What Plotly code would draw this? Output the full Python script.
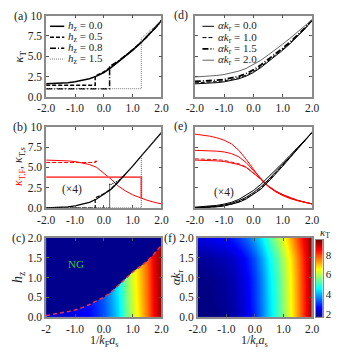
import plotly.graph_objects as go

W, H = 341, 357

x_pts = [-2.0, -1.75, -1.5, -1.25, -1.0, -0.75, -0.5, -0.25, 0.0, 0.25, 0.5, 0.75, 1.0, 1.25, 1.5, 1.75, 2.0]

# (a) kappa_T for several h_z
kappa_h00 = [1.6, 1.63, 1.68, 1.75, 1.85, 2.0, 2.22, 2.55, 3.0, 3.6, 4.3, 5.0, 5.75, 6.55, 7.4, 8.35, 9.4]
x_h05 = [-2.0, -0.3, -0.3, -0.25, 0.0, 0.25, 0.5, 0.75, 1.0, 1.25, 1.5, 1.75, 2.0]
kappa_h05 = [1.42, 1.42, 2.6, 2.65, 3.07, 3.66, 4.35, 5.04, 5.78, 6.57, 7.42, 8.36, 9.4]
x_h08 = [-2.0, 0.2, 0.2, 0.25, 0.5, 0.75, 1.0, 1.25, 1.5, 1.75, 2.0]
kappa_h08 = [1.0, 1.0, 3.8, 3.85, 4.4, 5.05, 5.78, 6.57, 7.42, 8.36, 9.4]
x_h15 = [-2.0, 1.3, 1.3, 1.5, 1.75, 2.0]
kappa_h15 = [1.0, 1.0, 7.25, 7.8, 8.6, 9.45]

# (b) superfluid (black) and fermionic x4 (red) parts
black_h00 = [0.0, 0.03, 0.07, 0.14, 0.25, 0.43, 0.7, 1.1, 1.65, 2.3, 3.2, 4.15, 5.15, 6.2, 7.25, 8.3, 9.3]
red_h00 = [5.9, 5.88, 5.85, 5.8, 5.72, 5.58, 5.35, 5.0, 4.3, 3.55, 2.7, 2.1, 1.62, 1.25, 0.95, 0.7, 0.5]
x_b05 = [-2.0, -0.3, -0.3, 0.0, 0.25, 0.5]
black_h05 = [0.0, 0.0, 1.25, 1.75, 2.35, 3.22]
x_r05 = [-2.0, -0.3, -0.3, -0.2]
red_h05 = [5.6, 5.6, 5.75, 5.75]
x_b08 = [-2.0, 0.2, 0.2, 0.25, 0.5, 0.75]
black_h08 = [0.0, 0.0, 2.9, 2.9, 3.35, 4.17]
x_b15 = [-2.0, 1.3, 1.3, 1.5, 1.75, 2.0]
black_h15 = [0.0, 0.0, 6.45, 7.3, 8.32, 9.3]
x_r15 = [-2.0, 1.3, 1.3]
red_h15 = [3.8, 3.8, 1.18]

# (d) kappa_T for several alpha k_r
kd_a00 = kappa_h00
kd_a10 = [1.72, 1.75, 1.8, 1.87, 1.97, 2.12, 2.34, 2.67, 3.12, 3.72, 4.42, 5.1, 5.85, 6.63, 7.47, 8.4, 9.42]
kd_a15 = [1.9, 1.93, 1.98, 2.05, 2.15, 2.3, 2.53, 2.87, 3.32, 3.92, 4.6, 5.27, 6.0, 6.76, 7.57, 8.46, 9.45]
kd_a20 = [2.45, 2.49, 2.55, 2.63, 2.75, 2.92, 3.17, 3.5, 3.95, 4.5, 5.15, 5.8, 6.5, 7.22, 7.98, 8.75, 9.5]

# (e)
blk_a00 = black_h00
blk_a10 = [0.02, 0.05, 0.09, 0.17, 0.29, 0.48, 0.77, 1.18, 1.75, 2.42, 3.3, 4.25, 5.22, 6.25, 7.28, 8.3, 9.3]
blk_a15 = [0.04, 0.08, 0.13, 0.22, 0.36, 0.57, 0.88, 1.32, 1.9, 2.6, 3.45, 4.37, 5.32, 6.32, 7.32, 8.32, 9.3]
blk_a20 = [0.1, 0.15, 0.22, 0.32, 0.48, 0.7, 1.05, 1.55, 2.15, 2.9, 3.75, 4.62, 5.55, 6.48, 7.4, 8.35, 9.3]
red_a00 = red_h00
red_a10 = [6.05, 6.03, 6.0, 5.95, 5.86, 5.7, 5.45, 5.05, 4.35, 3.55, 2.7, 2.1, 1.62, 1.25, 0.95, 0.7, 0.5]
red_a15 = [7.1, 7.08, 7.05, 7.0, 6.9, 6.7, 6.3, 5.6, 4.6, 3.6, 2.72, 2.08, 1.6, 1.22, 0.93, 0.7, 0.5]
red_a20 = [9.1, 9.0, 8.85, 8.65, 8.35, 7.9, 7.1, 6.0, 4.7, 3.55, 2.65, 2.0, 1.52, 1.16, 0.9, 0.68, 0.5]

# (c) map of kappa_T over (1/kFa_s, h_z) and the phase boundary h_c
h_rows = [0.0, 2.0]
kc_h00 = [2.25, 2.28, 2.32, 2.4, 2.5, 2.6, 2.7, 2.95, 3.3, 3.8, 4.35, 5.3, 6.1, 6.9, 7.65, 8.6, 9.35]
kc_h20 = [2.4, 2.45, 2.5, 2.6, 2.7, 2.85, 3.0, 3.3, 3.7, 4.25, 4.9, 5.7, 6.5, 7.2, 7.85, 8.8, 9.4]
hc_vals = [0.04, 0.07, 0.10, 0.14, 0.18, 0.24, 0.32, 0.40, 0.50, 0.63, 0.80, 0.98, 1.14, 1.27, 1.41, 1.60, 1.82]
# (f) map over (1/kra_s, alpha k_r) uses the curves of (d)
alpha_rows = [0.0, 1.0, 1.5, 2.0]
# colour scale
kmin, kmax = 1.7, 9.5
cbar_ticks = [2, 4, 6, 8]

FONT = "Liberation Serif"
GRAY = "#8a8a8a"
jet = [[0.0, "rgb(0,0,128)"], [0.125, "rgb(0,0,255)"], [0.375, "rgb(0,255,255)"],
       [0.625, "rgb(255,255,0)"], [0.875, "rgb(255,0,0)"], [1.0, "rgb(128,0,0)"]]


def px(v):
    return v / W


def py(v):
    return 1 - v / H


fig = go.Figure()


def line(x, y, ax, color="black", width=1.3, dash="solid"):
    fig.add_trace(go.Scatter(x=x, y=y, mode="lines", xaxis="x" + ax, yaxis="y" + ax,
                             line=dict(color=color, width=width, dash=dash), showlegend=False,
                             hoverinfo="skip"))


# (a)
line(x_pts, kappa_h00, "", width=1.5)
line(x_h05, kappa_h05, "", width=1.5, dash="4px,2px")
line(x_h08, kappa_h08, "", width=1.5, dash="6px,2px,1px,2px")
line(x_h15, kappa_h15, "", color="#777", width=1, dash="1px,1px")

# (b)
line(x_pts, red_h00, "2", color="red", width=1)
line(x_r05, red_h05, "2", color="red", width=1.2, dash="4px,2px")
line(x_r15, red_h15, "2", color="#ff5050", width=1.8)
line(x_pts, black_h00, "2", width=1.3)
line(x_b05, black_h05, "2", width=1.2, dash="4px,2px")
line(x_b08, black_h08, "2", width=1.2, dash="1px,1px")
line(x_b15, black_h15, "2", color="#555", width=1, dash="1px,1px")

# (d)
line(x_pts, kd_a00, "4", width=1)
line(x_pts, kd_a10, "4", width=1, dash="4px,2px")
line(x_pts, kd_a15, "4", width=1.8, dash="6px,2px,1px,2px")
line(x_pts, kd_a20, "4", color="#666", width=1)

# (e)
for r, d in [(red_a00, "solid"), (red_a10, "4px,2px"), (red_a15, "solid"), (red_a20, "solid")]:
    line(x_pts, r, "5", color="red", width=1, dash=d)
for b, d in [(blk_a00, "solid"), (blk_a10, "4px,2px"), (blk_a15, "solid"), (blk_a20, "solid")]:
    line(x_pts, b, "5", width=1, dash=d)

# (c) heatmap + normal-gas region
fig.add_trace(go.Heatmap(x=x_pts, y=h_rows, z=[kc_h00, kc_h20], xaxis="x3", yaxis="y3",
                         colorscale=jet, zmin=kmin, zmax=kmax, zsmooth="best", showscale=False,
                         hoverinfo="skip"))
fig.add_trace(go.Scatter(x=x_pts + [2.0, -2.0], y=hc_vals + [2.0, 2.0], xaxis="x3", yaxis="y3",
                         mode="lines", fill="toself", fillcolor="rgb(0,0,140)",
                         line=dict(width=0), showlegend=False, hoverinfo="skip"))
line(x_pts, hc_vals, "3", color="#e8304a", width=1.5, dash="4px,3px")

# (f) heatmap
fig.add_trace(go.Heatmap(x=x_pts, y=alpha_rows, z=[kd_a00, kd_a10, kd_a15, kd_a20],
                         xaxis="x6", yaxis="y6", colorscale=jet, zmin=kmin, zmax=kmax,
                         zsmooth="best", hoverinfo="skip", showscale=False))

# colour bar drawn as a thin heatmap on its own axis
fig.add_trace(go.Heatmap(x=[0, 1], y=[kmin, kmax], z=[[kmin, kmin], [kmax, kmax]],
                         xaxis="x7", yaxis="y7", colorscale=jet, zmin=kmin, zmax=kmax,
                         zsmooth="best", hoverinfo="skip", showscale=False))

ax_common = dict(showline=True, mirror="ticks", linecolor=GRAY, linewidth=1.5, ticks="inside",
                 ticklen=3, tickcolor="#555", showgrid=False, zeroline=False,
                 tickfont=dict(family=FONT, size=11.5, color="#222"))

xl = [px(39), px(160)]
xr = [px(195), px(318)]
xf = [px(198), px(318)]
ya = [py(94), py(10)]
yb = [py(209), py(125)]
yc = [py(322), py(240)]

xt = dict(range=[-2, 2], tickvals=[-2, -1, 0, 1, 2], ticktext=["-2.0", "-1.0", "0.0", "1.0", "2.0"])
yt = dict(range=[0, 10], tickvals=[0, 2.5, 5, 7.5, 10], ticktext=["0.0", "2.5", "5.0", "7.5", "10"])
yh = dict(range=[0, 2], tickvals=[0, 0.5, 1, 1.5, 2], ticktext=["0.0", "0.5", "1.0", "1.5", "2.0"])

fig.update_layout(
    width=W, height=H, margin=dict(l=0, r=0, t=0, b=0),
    paper_bgcolor="white", plot_bgcolor="white", showlegend=False,
    xaxis=dict(ax_common, domain=xl, anchor="y", **xt),
    yaxis=dict(ax_common, domain=ya, anchor="x", **yt),
    xaxis2=dict(ax_common, domain=xl, anchor="y2", **xt),
    yaxis2=dict(ax_common, domain=yb, anchor="x2", **yt),
    xaxis3=dict(ax_common, domain=xl, anchor="y3", range=[-2, 2], tickvals=[-2, -1, 0, 1, 2],
                ticktext=["-2", "-1.0", "0.0", "1.0", "2.0"]),
    yaxis3=dict(ax_common, domain=yc, anchor="x3", **yh),
    xaxis4=dict(ax_common, domain=xr, anchor="y4", **xt),
    yaxis4=dict(ax_common, domain=ya, anchor="x4", showticklabels=False, **yt),
    xaxis5=dict(ax_common, domain=xr, anchor="y5", **xt),
    yaxis5=dict(ax_common, domain=yb, anchor="x5", showticklabels=False, **yt),
    xaxis6=dict(ax_common, domain=xf, anchor="y6", **xt),
    yaxis6=dict(ax_common, domain=yc, anchor="x6", **yh),
    xaxis7=dict(domain=[px(322), px(329)], anchor="y7", range=[0, 1], showticklabels=False,
                ticks="", showline=True, mirror=True, linecolor=GRAY, linewidth=1,
                showgrid=False, zeroline=False),
    yaxis7=dict(domain=[py(322), py(242)], anchor="x7", side="right", range=[kmin, kmax],
                tickvals=cbar_ticks, ticks="", showline=True, mirror=True, linecolor=GRAY,
                linewidth=1, showgrid=False, zeroline=False,
                tickfont=dict(family=FONT, size=11, color="#222")),
)

ann = []


def text(x, y, s, size=12, color="#222", angle=0, xanchor="center"):
    ann.append(dict(x=px(x), y=py(y), xref="paper", yref="paper", text=s, showarrow=False,
                    font=dict(family=FONT, size=size, color=color), textangle=angle,
                    xanchor=xanchor, yanchor="middle"))


# panel letters
text(12, 10, "(a)")
text(12, 125, "(b)")
text(10, 240, "(c)")
text(180, 9, "(d)")
text(180, 124, "(e)")
text(169, 240, "(f)")

# axis titles
text(11, 52, "<i>κ</i><sub>T</sub>", size=13, angle=-90)
text(11, 166, "<span style='color:red'><i>κ</i><sub>T,F</sub></span>, <i>κ</i><sub>T,s</sub>",
     size=12, angle=-90)
text(10, 281, "<i>h</i><sub>z</sub>", size=14, angle=-90)
text(176, 281, "<i>αk</i><sub>r</sub>", size=13, angle=-90)
text(100, 347, "1/<i>k</i><sub>F</sub><i>a</i><sub>s</sub>", size=12)
text(258, 347, "1/<i>k</i><sub>r</sub><i>a</i><sub>s</sub>", size=12)
text(332, 235, "<i>κ</i><sub>T</sub>", size=11)

# inline labels
text(66, 190, "(×4)", size=11.5)
text(226, 193, "(×4)", size=11.5)
text(70, 267, "NG", size=11, color="#2ecc40")

# legends drawn as text + sample lines
shapes = []
leg_a = [("<i>h</i><sub>z</sub> = 0.0", "solid", "black", 1.5),
         ("<i>h</i><sub>z</sub> = 0.5", "4px,2px", "black", 1.5),
         ("<i>h</i><sub>z</sub> = 0.8", "6px,2px,1px,2px", "black", 1.5),
         ("<i>h</i><sub>z</sub> = 1.5", "1px,1px", "#777", 1)]
leg_d = [("<i>αk</i><sub>r</sub> = 0.0", "solid", "black", 1),
         ("<i>αk</i><sub>r</sub> = 1.0", "4px,2px", "black", 1),
         ("<i>αk</i><sub>r</sub> = 1.5", "6px,2px,1px,2px", "black", 1.8),
         ("<i>αk</i><sub>r</sub> = 2.0", "solid", "#666", 1)]
for i, (s, d, c, w) in enumerate(leg_a):
    yy = 21 + i * 11.3
    shapes.append(dict(type="line", xref="paper", yref="paper", x0=px(43), x1=px(58),
                       y0=py(yy), y1=py(yy), line=dict(color=c, width=w, dash=d)))
    text(60, yy, s, size=11, xanchor="left")
for i, (s, d, c, w) in enumerate(leg_d):
    yy = 21 + i * 11.7
    shapes.append(dict(type="line", xref="paper", yref="paper", x0=px(203), x1=px(215),
                       y0=py(yy), y1=py(yy), line=dict(color=c, width=w, dash=d)))
    text(217, yy, s, size=11, xanchor="left")

fig.update_layout(annotations=ann, shapes=shapes)
# the page is exactly the figure size: drop the body margin so no scrollbar covers the right edge
fig.write_html("out.html", config={"displayModeBar": False},
               post_script="document.body.style.margin='0';"
                           "document.body.style.overflow='hidden';")
